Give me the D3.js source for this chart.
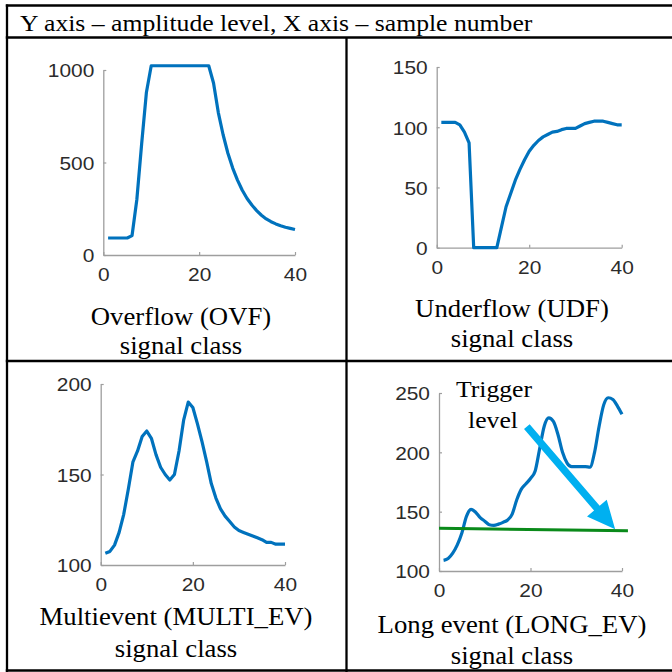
<!DOCTYPE html>
<html>
<head>
<meta charset="utf-8">
<script src="https://cdn.jsdelivr.net/npm/d3@7"></script>
<style>
  html, body { margin: 0; padding: 0; background: #fff; }
  svg { display: block; }
</style>
</head>
<body>
<svg id="chart" width="672" height="672"></svg>
<script>
// ---------------- data ----------------
const sampleNumbers = d3.range(1, 41);
const xTicks = [0, 20, 40];

const ovfValues = [92, 92, 92, 92, 92, 105, 300, 600, 880, 1023,
  1023, 1023, 1023, 1023, 1023, 1023, 1023, 1023, 1023, 1023,
  1023, 1023, 930, 770, 650, 550, 470, 405, 350, 305,
  270, 240, 215, 195, 180, 168, 158, 150, 144, 138];
const ovfYTicks = [0, 500, 1000];

const udfValues = [104, 104, 104, 104, 102, 96, 87, 0, 0, 0,
  0, 0, 0, 17, 34, 45, 56, 65, 73, 80,
  85, 89, 92, 94, 96, 96.5, 98, 99, 99, 99,
  101, 103, 104, 105, 105, 105, 104, 103, 102, 102];
const udfYTicks = [0, 50, 100, 150];

const multiValues = [106.5, 107.5, 111, 118, 128, 142, 157, 163, 171, 174,
  170, 161, 154, 150, 147, 150, 163, 180, 190, 187,
  178, 168, 157, 145, 137, 131, 127, 124, 121, 119,
  118, 117, 116, 115, 114, 112.5, 112.5, 111.5, 111.5, 111.5];
const multiYTicks = [100, 150, 200];

const longValues = [109, 110.5, 115, 122, 132, 146, 152, 149.5, 145, 142,
  139, 138.5, 139.5, 141, 143, 148, 160, 169, 173.5, 178,
  184, 203, 222, 229, 226, 215, 200, 191, 188, 188,
  188, 188, 187.5, 200, 222, 240, 246, 244.5, 239, 232];
const longYTicks = [100, 150, 200, 250];

const triggerLine = [{x: 0, y: 136}, {x: 41.3, y: 134}];
const triggerArrow = [{x: 19.2, y: 221.6}, {x: 38.5, y: 135.1}];

const headerText = "Y axis \u2013 amplitude level, X axis \u2013 sample number";
const panelLabels = [
  ["Overflow (OVF)", "signal class"],
  ["Underflow (UDF)", "signal class"],
  ["Multievent (MULTI_EV)", "signal class"],
  ["Long event (LONG_EV)", "signal class"]
];
const triggerLabel = ["Trigger", "level"];

// ---------------- layout ----------------
const SERIF_STRETCH = 1.07;
const SANS_STRETCH = 1.1;
const svg = d3.select("#chart");
const blue = "#0072BD";

const panels = [
  { values: ovfValues, yTicks: ovfYTicks, yDomain: [0, 1000],
    xRange: [103.3, 295], yRange: [255, 70], curve: d3.curveLinear,
    label: panelLabels[0], labelX: 181, labelY: [325, 354] },
  { values: udfValues, yTicks: udfYTicks, yDomain: [0, 150],
    xRange: [436.7, 621.7], yRange: [247.7, 67], curve: d3.curveLinear,
    label: panelLabels[1], labelX: 512, labelY: [317, 347] },
  { values: multiValues, yTicks: multiYTicks, yDomain: [100, 200],
    xRange: [100.7, 285], yRange: [565, 384], curve: d3.curveLinear,
    label: panelLabels[2], labelX: 176, labelY: [625, 657] },
  { values: longValues, yTicks: longYTicks, yDomain: [100, 250],
    xRange: [439, 622], yRange: [571, 393], curve: d3.curveMonotoneX,
    label: panelLabels[3], labelX: 512, labelY: [633, 664] }
];

// table grid
const grid = svg.append("g").attr("stroke", "#000").attr("stroke-width", 2.3);
grid.append("line").attr("x1", 5.8).attr("x2", 672).attr("y1", 5.5).attr("y2", 5.5);
grid.append("line").attr("x1", 5.8).attr("x2", 672).attr("y1", 37.5).attr("y2", 37.5);
grid.append("line").attr("x1", 5.8).attr("x2", 672).attr("y1", 361).attr("y2", 361);
grid.append("line").attr("x1", 5.8).attr("x2", 672).attr("y1", 670.5).attr("y2", 670.5);
grid.append("line").attr("x1", 7).attr("x2", 7).attr("y1", 4.5).attr("y2", 672);
grid.append("line").attr("x1", 346.5).attr("x2", 346.5).attr("y1", 37.5).attr("y2", 672);

function serifText(g, txt, x, y, size, anchor) {
  return g.append("text")
    .attr("transform", `translate(${x},${y}) scale(${SERIF_STRETCH},1)`)
    .attr("text-anchor", anchor || "middle")
    .attr("font-family", "'Liberation Serif', 'Times New Roman', serif")
    .attr("font-size", size)
    .attr("fill", "#000")
    .text(txt);
}

serifText(svg, headerText, 20, 31, 24, "start");

panels.forEach((p, i) => {
  const x = d3.scaleLinear().domain([0, 40]).range(p.xRange);
  const y = d3.scaleLinear().domain(p.yDomain).range(p.yRange);
  const g = svg.append("g");

  const yAxis = d3.axisLeft(y).tickValues(p.yTicks).tickFormat(d3.format("d"))
    .tickSizeInner(-3).tickSizeOuter(0).tickPadding(9);
  const xAxis = d3.axisBottom(x).tickValues(xTicks).tickFormat(d3.format("d"))
    .tickSizeInner(-3).tickSizeOuter(0).tickPadding(13);

  const ga = g.append("g").attr("transform", `translate(${p.xRange[0]},0)`).call(yAxis);
  const gb = g.append("g").attr("transform", `translate(0,${p.yRange[0]})`).call(xAxis);
  [ga, gb].forEach(a => {
    a.select(".domain").attr("stroke", "#9e9e9e").attr("stroke-width", 1.3);
    a.selectAll(".tick line").attr("stroke", "#9e9e9e").attr("stroke-width", 1.2);
    a.selectAll(".tick text")
      .attr("font-family", "'Liberation Sans', Arial, sans-serif")
      .attr("font-size", 19)
      .attr("fill", "#2b2b2b");
  });
  ga.selectAll(".tick text").attr("x", -9 / SANS_STRETCH).attr("dy", "0.36em")
    .attr("transform", `scale(${SANS_STRETCH},1)`);
  gb.selectAll(".tick text").attr("transform", `scale(${SANS_STRETCH},1)`);

  const line = d3.line()
    .x((d, j) => x(sampleNumbers[j]))
    .y(d => y(d))
    .curve(p.curve);
  g.append("path").datum(p.values)
    .attr("d", line)
    .attr("fill", "none")
    .attr("stroke", blue)
    .attr("stroke-width", 3.2)
    .attr("stroke-linejoin", "round")
    .attr("stroke-linecap", "butt");

  serifText(g, p.label[0], p.labelX, p.labelY[0], 25);
  serifText(g, p.label[1], p.labelX, p.labelY[1], 25);

  if (i === 3) {
    const tl = d3.line().x(d => x(d.x)).y(d => y(d.y));
    g.append("path").datum(triggerLine)
      .attr("d", tl)
      .attr("fill", "none")
      .attr("stroke", "#0A8A1A")
      .attr("stroke-width", 3);

    // arrow
    const x0 = x(triggerArrow[0].x), y0 = y(triggerArrow[0].y);
    const x1 = x(triggerArrow[1].x), y1 = y(triggerArrow[1].y);
    const dx = x1 - x0, dy = y1 - y0, L = Math.hypot(dx, dy);
    const ux = dx / L, uy = dy / L, nx = -uy, ny = ux;
    const sw = 3.7, hw = 13, hl = 28;
    const bx = x1 - ux * hl, by = y1 - uy * hl;
    const pts = [
      [x0 + nx * sw, y0 + ny * sw],
      [bx + nx * sw, by + ny * sw],
      [bx + nx * hw, by + ny * hw],
      [x1, y1],
      [bx - nx * hw, by - ny * hw],
      [bx - nx * sw, by - ny * sw],
      [x0 - nx * sw, y0 - ny * sw]
    ];
    g.append("polygon")
      .attr("points", pts.map(q => q.join(",")).join(" "))
      .attr("fill", "#00B0F0");

    serifText(g, triggerLabel[0], 494, 397, 24);
    serifText(g, triggerLabel[1], 493, 428, 24);
  }
});
</script>
</body>
</html>
